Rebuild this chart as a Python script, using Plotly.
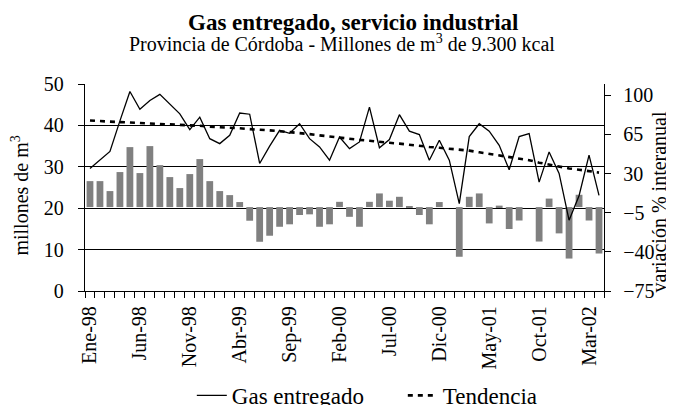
import plotly.graph_objects as go

months = ["Ene-98", "Feb-98", "Mar-98", "Abr-98", "May-98", "Jun-98", "Jul-98", "Ago-98", "Sep-98", "Oct-98", "Nov-98", "Dic-98",
          "Ene-99", "Feb-99", "Mar-99", "Abr-99", "May-99", "Jun-99", "Jul-99", "Ago-99", "Sep-99", "Oct-99", "Nov-99", "Dic-99",
          "Ene-00", "Feb-00", "Mar-00", "Abr-00", "May-00", "Jun-00", "Jul-00", "Ago-00", "Sep-00", "Oct-00", "Nov-00", "Dic-00",
          "Ene-01", "Feb-01", "Mar-01", "Abr-01", "May-01", "Jun-01", "Jul-01", "Ago-01", "Sep-01", "Oct-01", "Nov-01", "Dic-01",
          "Ene-02", "Feb-02", "Mar-02", "Abr-02"]

gas = [29.6, 31.6, 33.7, 41.1, 48.2, 43.9, 46.0, 47.5, 45.1, 42.8, 39.0, 42.0,
       36.8, 35.6, 37.6, 43.0, 42.7, 30.8, 35.0, 38.8, 38.1, 40.4, 36.8, 34.8,
       31.6, 37.2, 34.4, 36.0, 44.4, 34.6, 36.6, 42.6, 38.6, 37.8, 31.6, 36.4,
       31.6, 21.1, 37.3, 40.4, 38.6, 35.2, 29.3, 37.3, 38.0, 26.3, 33.6, 28.4,
       17.1, 23.0, 32.8, 23.1]

tendencia = [41.2, 41.0, 40.9, 40.8, 40.7, 40.6, 40.5, 40.4, 40.3, 40.2, 40.0, 39.9,
             39.7, 39.6, 39.4, 39.3, 39.1, 39.0, 38.8, 38.6, 38.4, 38.1, 37.9, 37.6,
             37.3, 37.0, 36.8, 36.5, 36.3, 36.0, 35.8, 35.6, 35.3, 35.0, 34.8, 34.6,
             34.4, 34.2, 33.9, 33.5, 33.1, 32.8, 32.4, 32.0, 31.6, 31.0, 30.5, 30.0,
             29.6, 29.3, 28.9, 28.6]

variacion = [23.2, 23.2, 14.3, 31.3, 53.6, 30.4, 54.5, 37.5, 26.8, 17.0, 29.5, 42.9,
             23.2, 14.3, 10.7, 4.5, -12.2, -31.0, -25.6, -17.6, -15.4, -7.1, -6.5, -17.6,
             -15.4, 4.7, -8.7, -17.6, 4.7, 12.2, 5.7, 9.2, 0.9, -7.1, -15.4, 4.5,
             0.0, -44.4, 9.2, 12.2, -14.6, 1.3, -19.6, -12.0, 0.0, -30.8, 7.6, -23.5,
             -46.0, 11.0, -12.0, -41.5]

left_ticks = [0, 10, 20, 30, 40, 50]
right_ticks = [-75, -40, -5, 30, 65, 100]

idx = list(range(len(months)))
label_idx = idx[::5]
label_txt = [months[i] for i in label_idx]

FONT = "Liberation Serif"

fig = go.Figure()
fig.add_trace(go.Bar(x=idx, y=variacion, yaxis="y", marker_color="#808080",
                     marker_line_width=0, width=0.68, showlegend=False, name="variación"))
fig.add_trace(go.Scatter(x=idx, y=gas, yaxis="y2", mode="lines", name="Gas entregado",
                         line=dict(color="black", width=1.3)))
fig.add_trace(go.Scatter(x=idx, y=tendencia, yaxis="y2", mode="lines", name="Tendencia",
                         line=dict(color="black", width=2.6, dash="5px,5px")))

# the page body adds an 8px offset; figure is sized so that it fills the 674x405 window
fig.update_layout(
    width=666, height=397,
    margin=dict(l=77, r=70, t=76, b=114, autoexpand=False),
    paper_bgcolor="white", plot_bgcolor="white",
    font=dict(family=FONT, size=20, color="black"),
    showlegend=True,
    legend=dict(orientation="h", xref="container", x=0.276, xanchor="left",
                yref="container", y=0.024, yanchor="middle", entrywidth=166,
                font=dict(family=FONT, size=23), bgcolor="rgba(0,0,0,0)"),
    xaxis=dict(range=[-0.5, len(months) - 0.5], tickmode="array", tickvals=label_idx,
               ticktext=label_txt, tickangle=-90, ticks="", ticklabelstandoff=6, automargin=False,
               showline=True, linecolor="black", linewidth=1.3, showgrid=False, zeroline=False,
               tickfont=dict(family=FONT, size=20),
               minor=dict(tick0=-0.5, dtick=1, ticks="outside", ticklen=6, tickcolor="black",
                          tickwidth=1, showgrid=False)),
    yaxis=dict(side="right", range=[-75, 110], tickmode="array", tickvals=right_ticks,
               ticks="outside", ticklen=6, tickcolor="black", showline=True, linecolor="black",
               linewidth=1.3, showgrid=False, zeroline=False, ticklabelstandoff=8, automargin=False,
               tickfont=dict(family=FONT, size=20)),
    yaxis2=dict(side="left", overlaying="y", range=[0, 50], tickmode="array", tickvals=left_ticks,
                ticks="outside", ticklen=6, tickcolor="black", showline=True, linecolor="black",
                linewidth=1.3, showgrid=True, gridcolor="black", gridwidth=1, zeroline=False,
                ticklabelstandoff=10, automargin=False, tickfont=dict(family=FONT, size=20)),
    annotations=[
        dict(text="<b>Gas entregado, servicio industrial</b>", xref="paper", yref="paper",
             x=0.518, y=1.297, xanchor="center", yanchor="middle", showarrow=False,
             font=dict(family=FONT, size=23)),
        dict(text="Provincia de Córdoba - Millones de m<sup>3</sup> de 9.300 kcal", xref="paper", yref="paper",
             x=0.495, y=1.20, xanchor="center", yanchor="middle", showarrow=False,
             font=dict(family=FONT, size=20)),
        dict(text="millones de m<sup>3</sup>", xref="paper", yref="paper", textangle=-90,
             x=-0.126, y=0.459, xanchor="center", yanchor="middle", showarrow=False,
             font=dict(family=FONT, size=20)),
        dict(text="variación % interanual", xref="paper", yref="paper", textangle=-90,
             x=1.105, y=0.43, xanchor="center", yanchor="middle", showarrow=False,
             font=dict(family=FONT, size=20)),
    ],
)

fig.write_html("out.html")
